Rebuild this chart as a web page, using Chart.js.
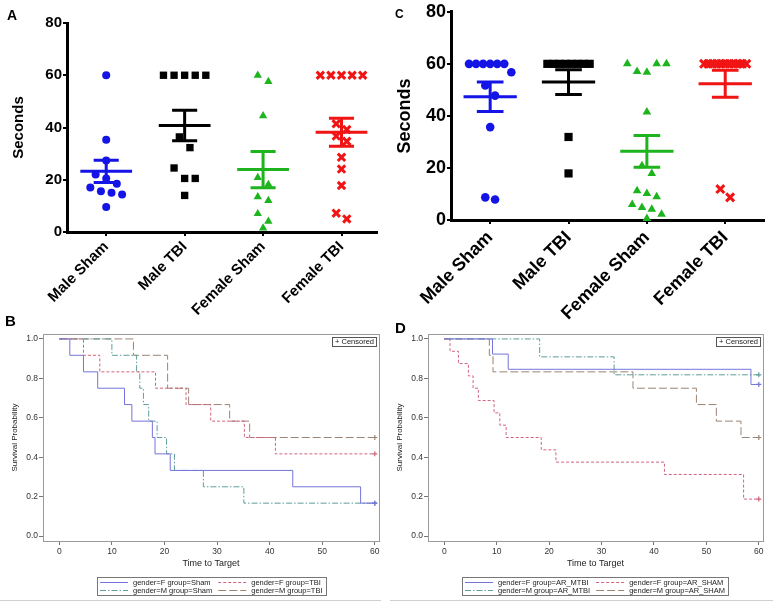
<!DOCTYPE html>
<html>
<head>
<meta charset="utf-8">
<script src="https://cdn.jsdelivr.net/npm/chart.js@4.4.1/dist/chart.umd.min.js"></script>
<style>
    body { margin: 0; background: #fff; }
    #wrap { position: relative; width: 773px; height: 605px; overflow: hidden; }
    #wrap canvas { position: absolute; }
    .panel-letter { position: absolute; font-family: "Liberation Sans", Arial, sans-serif; font-weight: bold; line-height: 1; color: #000; }
    .rule { position: absolute; height: 1px; background: #cfcfcf; top: 600px; }
</style>
</head>
<body>
<div id="wrap">
    <canvas id="chartA" width="385" height="320" style="left:0;top:0"></canvas>
    <canvas id="chartC" width="388" height="320" style="left:385px;top:0"></canvas>
    <canvas id="chartB" width="390" height="305" style="left:0;top:300px"></canvas>
    <canvas id="chartD" width="388" height="305" style="left:385px;top:300px"></canvas>
    <div class="panel-letter" style="left:7px;top:8px;font-size:14px">A</div>
    <div class="panel-letter" style="left:395px;top:8px;font-size:12px">C</div>
    <div class="panel-letter" style="left:5px;top:313px;font-size:15px">B</div>
    <div class="panel-letter" style="left:395px;top:320px;font-size:15px">D</div>
    <div class="rule" style="left:0;width:381px"></div>
    <div class="rule" style="left:390px;width:383px"></div>
</div>
<script>
// ---- data: dot plots (seconds) ----
const groupLabels = ['Male Sham', 'Male TBI', 'Female Sham', 'Female TBI'];
const secondsTicks = [0, 20, 40, 60, 80];

const aMaleSham = [60, 35.3, 27.4, 22, 20.5, 18.5, 17, 15.6, 15, 14.4, 9.6];
const aMaleTBI = [60, 60, 60, 60, 60, 36.4, 32.3, 24.5, 20.5, 20.5, 14];
const aFemaleSham = [60, 57.6, 44.5, 20.8, 18.2, 13.5, 12, 7, 4.1, 1.5];
const aFemaleTBI = [60, 60, 60, 60, 60, 41.4, 39.2, 36.7, 34.7, 28.6, 24.1, 17.8, 7.2, 5.0];

const cMaleSham = [60, 60, 60, 60, 60, 60, 56.8, 51.7, 47.8, 35.7, 8.7, 7.9];
const cMaleTBI = [60, 60, 60, 60, 60, 60, 60, 60, 31.9, 17.9];
const cFemaleSham = [60, 57.1, 56.8, 60, 60, 41.5, 20.8, 17.9, 11.2, 10.2, 8.9, 6, 4.8, 4.1, 2.2, 0.6];
const cFemaleTBI = [60, 60, 60, 60, 60, 60, 60, 60, 60, 60, 60, 11.9, 8.7];

// ---- data: Kaplan-Meier curves (time, survival); last point is censored ----
const kmTimeTicks = [0, 10, 20, 30, 40, 50, 60];
const kmProbTicks = [0, 0.2, 0.4, 0.6, 0.8, 1.0];

const bLabels = ['gender=F group=Sham', 'gender=F group=TBI', 'gender=M group=Sham', 'gender=M group=TBI'];
const bFShamTime = [0, 2.0, 4.6, 7.3, 12.4, 13.8, 17.7, 18.2, 21.1, 44.4, 57.3, 60];
const bFShamSurv = [1, 0.917, 0.833, 0.75, 0.667, 0.583, 0.5, 0.417, 0.333, 0.25, 0.167, 0.167];
const bFTbiTime = [0, 4.6, 7.7, 18.3, 24.1, 28.8, 35.2, 41.1, 60];
const bFTbiSurv = [1, 0.917, 0.833, 0.75, 0.667, 0.583, 0.5, 0.417, 0.417];
const bMShamTime = [0, 10.0, 14.7, 15.3, 16.0, 17.0, 18.6, 20.4, 21.9, 27.4, 35.1, 60];
const bMShamSurv = [1, 0.917, 0.833, 0.75, 0.667, 0.583, 0.5, 0.417, 0.333, 0.25, 0.167, 0.167];
const bMTbiTime = [0, 14.1, 20.6, 24.6, 32.4, 36.2, 60];
const bMTbiSurv = [1, 0.917, 0.75, 0.667, 0.583, 0.5, 0.5];

const dLabels = ['gender=F group=AR_MTBI', 'gender=F group=AR_SHAM', 'gender=M group=AR_MTBI', 'gender=M group=AR_SHAM'];
const dFMtbiTime = [0, 9.2, 12.2, 58.5, 60];
const dFMtbiSurv = [1, 0.923, 0.846, 0.769, 0.769];
const dFShamTime = [0, 1.1, 2.7, 4.6, 5.5, 6.5, 9.5, 10.6, 11.8, 18.5, 21.3, 42.0, 57.1, 60];
const dFShamSurv = [1, 0.9375, 0.875, 0.8125, 0.75, 0.6875, 0.625, 0.5625, 0.5, 0.4375, 0.375, 0.3125, 0.1875, 0.1875];
const dMMtbiTime = [0, 18.2, 32.4, 60];
const dMMtbiSurv = [1, 0.909, 0.818, 0.818];
const dMShamTime = [0, 8.6, 9.3, 36.0, 48.1, 51.9, 56.6, 60];
const dMShamSurv = [1, 0.917, 0.833, 0.75, 0.667, 0.583, 0.5, 0.5];

const FONT = '"Liberation Sans", Arial, sans-serif';
Chart.defaults.font.family = FONT;
Chart.defaults.animation = false;

// ---------------- dot plots ----------------
function mean(v) {
    return v.reduce((a, b) => a + b, 0) / v.length;
}

function sem(v) {
    const m = mean(v);
    const ss = v.reduce((a, b) => a + (b - m) * (b - m), 0);
    return Math.sqrt(ss / (v.length - 1)) / Math.sqrt(v.length);
}

// spread points sharing a value band into a centred row (column scatter layout)
function swarm(values, cat, band, step, maxHalf) {
    const order = values.map((v, i) => i).sort((a, b) => values[b] - values[a]);
    const pts = [];
    let row = [];
    const flush = () => {
        const n = row.length;
        const s = n > 1 ? Math.min(step, 2 * maxHalf / (n - 1)) : 0;
        row.sort((a, b) => a - b).forEach((i, k) => {
            pts.push({ x: cat + (k - (n - 1) / 2) * s, y: values[i] });
        });
        row = [];
    };
    order.forEach(i => {
        if (row.length && values[i] <= values[row[0]] - band) flush();
        row.push(i);
    });
    flush();
    return pts;
}

function errorBar(cat, m, s, meanHalf, capHalf) {
    return [
        { x: cat - meanHalf, y: m }, { x: cat + meanHalf, y: m }, { x: cat, y: null },
        { x: cat - capHalf, y: m + s }, { x: cat + capHalf, y: m + s }, { x: cat, y: null },
        { x: cat - capHalf, y: m - s }, { x: cat + capHalf, y: m - s }, { x: cat, y: null },
        { x: cat, y: m - s }, { x: cat, y: m + s }
    ];
}

function dotPlot(canvasId, groups, o) {
    const datasets = [];
    groups.forEach((g, i) => {
        const isCross = g.shape === 'crossRot';
        datasets.push({
            data: swarm(g.values, i, 4.5, o.step, 0.27),
            showLine: false,
            pointStyle: g.shape,
            pointRadius: o.radius[g.shape],
            pointBackgroundColor: g.color,
            pointBorderColor: g.color,
            pointBorderWidth: isCross ? 3 : 0,
            clip: false,
            order: 2
        });
        datasets.push({
            data: errorBar(i, mean(g.values), sem(g.values), o.meanHalf, o.capHalf),
            borderColor: g.color,
            borderWidth: 3,
            pointRadius: 0,
            spanGaps: false,
            clip: false,
            order: 1
        });
    });

    return new Chart(document.getElementById(canvasId), {
        type: 'line',
        data: { datasets: datasets },
        options: {
            responsive: false,
            devicePixelRatio: 1,
            layout: { padding: { top: o.top, right: o.right, bottom: 0, left: 0 } },
            plugins: { legend: { display: false }, tooltip: { enabled: false } },
            scales: {
                x: {
                    type: 'linear',
                    min: -0.5,
                    max: o.xMax,
                    afterBuildTicks: s => { s.ticks = groupLabels.map((l, i) => ({ value: i })); },
                    afterFit: s => { s.height = o.xHeight; },
                    ticks: {
                        callback: (v, i) => groupLabels[i],
                        autoSkip: false,
                        minRotation: 45,
                        maxRotation: 45,
                        padding: o.xPad,
                        color: '#000',
                        font: { size: o.xFont, weight: 'bold' }
                    },
                    grid: { drawOnChartArea: false, tickLength: 4, color: '#000', lineWidth: 2 },
                    border: { color: '#000', width: 3 }
                },
                y: {
                    min: 0,
                    max: 80,
                    afterBuildTicks: s => { s.ticks = secondsTicks.map(v => ({ value: v })); },
                    afterFit: s => { s.width = o.yWidth; },
                    ticks: { padding: 1, color: '#000', font: { size: o.yFont, weight: 'bold' } },
                    grid: { drawOnChartArea: false, tickLength: 4, color: '#000', lineWidth: 2 },
                    border: { color: '#000', width: 3 },
                    title: {
                        display: true,
                        text: 'Seconds',
                        color: '#000',
                        font: { size: o.yFont, weight: 'bold' },
                        padding: { top: o.titlePad, bottom: 0 }
                    }
                }
            }
        }
    });
}

const BLUE = '#1414e6', BLACK = '#000000', GREEN = '#1eb41e', RED = '#f01414';

dotPlot('chartA', [
    { values: aMaleSham, color: BLUE, shape: 'circle' },
    { values: aMaleTBI, color: BLACK, shape: 'rect' },
    { values: aFemaleSham, color: GREEN, shape: 'triangle' },
    { values: aFemaleTBI, color: RED, shape: 'crossRot' }
], {
    top: 23, right: 7, xMax: 3.45, xHeight: 88, yWidth: 67, xFont: 15, yFont: 15, xPad: 2, titlePad: 10,
    step: 0.135, meanHalf: 0.33, capHalf: 0.16,
    radius: { circle: 4, rect: 5.2, triangle: 4.8, crossRot: 5.2 }
});

dotPlot('chartC', [
    { values: cMaleSham, color: BLUE, shape: 'circle' },
    { values: cMaleTBI, color: BLACK, shape: 'rect' },
    { values: cFemaleSham, color: GREEN, shape: 'triangle' },
    { values: cFemaleTBI, color: RED, shape: 'crossRot' }
], {
    top: 11, right: 5, xMax: 3.5, xHeight: 100, yWidth: 66, xFont: 18, yFont: 18, xPad: 3, titlePad: 9,
    step: 0.125, meanHalf: 0.34, capHalf: 0.17,
    radius: { circle: 4.3, rect: 5.8, triangle: 5, crossRot: 5.6 }
});

// ---------------- Kaplan-Meier plots ----------------
const kmStyles = [
    { color: '#7474dc', dash: [] },             // F, solid
    { color: '#d4627c', dash: [3, 2] },         // F, short dash
    { color: '#5f9c9c', dash: [6, 2, 1.5, 2] }, // M, dash-dot
    { color: '#9a8474', dash: [8, 3] }          // M, long dash
];

const kmDecor = {
    id: 'kmDecor',
    afterDraw(chart) {
        const { ctx, chartArea: a } = chart;
        ctx.save();
        // plot frame
        ctx.strokeStyle = '#9a9a9a';
        ctx.lineWidth = 1;
        ctx.strokeRect(Math.round(a.left) + 0.5, Math.round(a.top) + 0.5,
            Math.round(a.right - a.left), Math.round(a.bottom - a.top));

        // "+ Censored" key
        ctx.font = '7.5px ' + FONT;
        ctx.textBaseline = 'middle';
        ctx.fillStyle = '#222';
        const ct = '+ Censored';
        const cw = ctx.measureText(ct).width + 5;
        const cx = Math.round(a.right - 3 - cw), cy = Math.round(a.top + 3);
        ctx.strokeStyle = '#555';
        ctx.strokeRect(cx + 0.5, cy + 0.5, cw, 9);
        ctx.fillText(ct, cx + 3, cy + 5);

        // legend box, two columns
        const ds = chart.data.datasets;
        const sample = 28, gap = 5, colGap = 6, pad = 3, rowH = 8;
        const colW = [0, 1].map(c => {
            const w = ds.filter((d, i) => i % 2 === c).map(d => ctx.measureText(d.label).width);
            return sample + gap + Math.max(...w);
        });
        const boxW = pad * 2 + colW[0] + colGap + colW[1];
        const bx = Math.round((a.left + a.right) / 2 - boxW / 2);
        const by = Math.round(a.bottom + 36);
        ctx.strokeStyle = '#777';
        ctx.strokeRect(bx + 0.5, by + 0.5, Math.round(boxW), rowH * 2 + 2);
        ds.forEach((d, i) => {
            const col = i % 2, row = Math.floor(i / 2);
            const x0 = bx + pad + (col ? colW[0] + colGap : 0);
            const y0 = by + 5 + row * rowH;
            ctx.strokeStyle = d.borderColor;
            ctx.lineWidth = 1;
            ctx.setLineDash(d.borderDash);
            ctx.beginPath();
            ctx.moveTo(x0, y0 + 0.5);
            ctx.lineTo(x0 + sample, y0 + 0.5);
            ctx.stroke();
            ctx.setLineDash([]);
            ctx.fillStyle = '#222';
            ctx.fillText(d.label, x0 + sample + gap, y0 + 0.5);
        });
        ctx.restore();
    }
};

function kmPlot(canvasId, labels, curves, rightPad) {
    const datasets = curves.map((c, k) => ({
        label: labels[k],
        data: c.time.map((t, i) => ({ x: t, y: c.surv[i] })),
        stepped: true,
        borderColor: kmStyles[k].color,
        borderDash: kmStyles[k].dash,
        borderWidth: 1,
        pointStyle: 'cross',
        pointRadius: ctx => ctx.dataIndex === c.time.length - 1 ? 2.5 : 0,
        pointBorderColor: kmStyles[k].color,
        pointBorderWidth: 1.2,
        clip: false
    }));

    return new Chart(document.getElementById(canvasId), {
        type: 'line',
        data: { datasets: datasets },
        plugins: [kmDecor],
        options: {
            responsive: false,
            devicePixelRatio: 1,
            layout: { padding: { top: 34, right: rightPad, bottom: 34, left: 0 } },
            plugins: { legend: { display: false }, tooltip: { enabled: false } },
            scales: {
                x: {
                    type: 'linear',
                    min: -3.1,
                    max: 60.8,
                    afterBuildTicks: s => { s.ticks = kmTimeTicks.map(v => ({ value: v })); },
                    afterFit: s => { s.height = 30; },
                    ticks: { padding: 2, color: '#333', font: { size: 8.5 } },
                    grid: { drawOnChartArea: false, tickLength: 4, color: '#777' },
                    border: { display: false },
                    title: { display: true, text: 'Time to Target', color: '#222', font: { size: 9 }, padding: { top: 0, bottom: 2 } }
                },
                y: {
                    min: -0.025,
                    max: 1.025,
                    afterBuildTicks: s => { s.ticks = kmProbTicks.map(v => ({ value: v })); },
                    afterFit: s => { s.width = 43; },
                    ticks: { callback: v => v.toFixed(1), padding: 1, color: '#333', font: { size: 8.5 } },
                    grid: { drawOnChartArea: false, tickLength: 4, color: '#777' },
                    border: { display: false },
                    title: { display: true, text: 'Survival Probability', color: '#222', font: { size: 8 }, padding: { top: 10, bottom: 0 } }
                }
            }
        }
    });
}

kmPlot('chartB', bLabels, [
    { time: bFShamTime, surv: bFShamSurv },
    { time: bFTbiTime, surv: bFTbiSurv },
    { time: bMShamTime, surv: bMShamSurv },
    { time: bMTbiTime, surv: bMTbiSurv }
], 11);

kmPlot('chartD', dLabels, [
    { time: dFMtbiTime, surv: dFMtbiSurv },
    { time: dFShamTime, surv: dFShamSurv },
    { time: dMMtbiTime, surv: dMMtbiSurv },
    { time: dMShamTime, surv: dMShamSurv }
], 10);
</script>
</body>
</html>
